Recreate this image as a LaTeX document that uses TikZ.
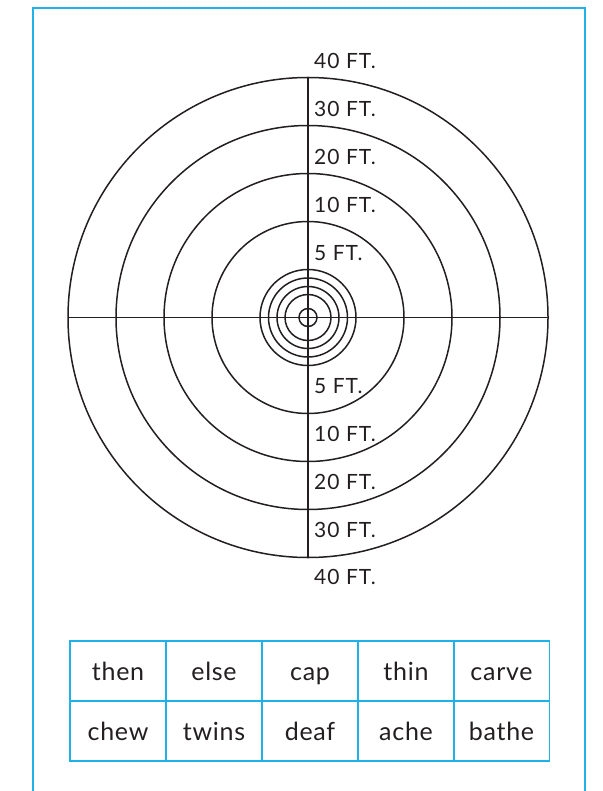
\documentclass[tikz,border=0pt]{standalone}
\usepackage{fontspec}
\setmainfont{Lato}
\newfontfamily\labelfont[LetterSpace=5]{Lato}
\newfontfamily\wordfont[LetterSpace=3]{Lato}
\definecolor{frameblue}{RGB}{30,178,232}
\definecolor{ink}{RGB}{35,31,32}
\begin{document}
\begin{tikzpicture}[x=1pt,y=-1pt,
  ring/.style={draw=ink,line width=1.5pt},
  axis/.style={draw=ink,line width=1.5pt},
  ftlabel/.style={anchor=base west,inner sep=0pt,text=ink,font=\labelfont\fontsize{21}{21}\selectfont},
  cell/.style={draw=frameblue,line width=1.4pt,minimum width=96pt,minimum height=60pt,
    inner sep=0pt,text height=18pt,text depth=0pt,text=ink,font=\wordfont\fontsize{25}{25}\selectfont},
  frame/.style={draw=frameblue,line width=1.6pt}]
\useasboundingbox (0,0) rectangle (602,791);
% frame
\coordinate (fbl) at (33,791);
\coordinate (ftl) at (33,8);
\coordinate (ftr) at (585,8);
\coordinate (fbr) at (585,791);
\draw[frame] (fbl) -- (ftl) -- (ftr) -- (fbr);
% target
\coordinate (c) at (308,317.5);
\foreach \r in {240,192,144,96,48,39.5,31,23,9}
  \draw[ring] (c) circle[radius=\r];
\coordinate (hl) at (68,317.5);
\coordinate (hr) at (548,317.5);
\coordinate (vt) at (308,77.5);
\coordinate (vb) at (308,557.5);
\draw[axis] (hl) -- (hr);
\draw[axis] (vt) -- (vb);
% labels top
\node[ftlabel] (t40) at (314,69) {40 FT.};
\node[ftlabel] (t30) at (314,117) {30 FT.};
\node[ftlabel] (t20) at (314,165) {20 FT.};
\node[ftlabel] (t10) at (314,213) {10 FT.};
\node[ftlabel] (t5) at (314,261) {5 FT.};
% labels bottom
\node[ftlabel] (b5) at (314,393) {5 FT.};
\node[ftlabel] (b10) at (314,441) {10 FT.};
\node[ftlabel] (b20) at (314,489) {20 FT.};
\node[ftlabel] (b30) at (314,537) {30 FT.};
\node[ftlabel] (b40) at (314,584) {40 FT.};
% table
\node[cell] (w11) at (118,671) {then};
\node[cell] (w12) at (214,671) {else};
\node[cell] (w13) at (310,671) {cap};
\node[cell] (w14) at (406,671) {thin};
\node[cell] (w15) at (501.5,671) {carve};
\node[cell] (w21) at (118,731) {chew};
\node[cell] (w22) at (214,731) {twins};
\node[cell] (w23) at (310,731) {deaf};
\node[cell] (w24) at (406,731) {ache};
\node[cell] (w25) at (501.5,731) {bathe};
\end{tikzpicture}
\end{document}
